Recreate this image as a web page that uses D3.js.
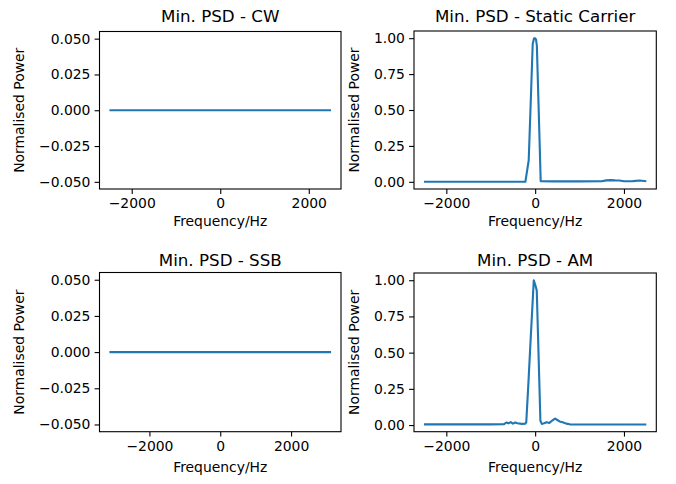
<!DOCTYPE html>
<html><head><meta charset="utf-8">
<script src="https://cdn.jsdelivr.net/npm/d3@7"></script>
<style>body{margin:0;background:#fff}svg{display:block}text{font-family:"DejaVu Sans",sans-serif;fill:#000}</style>
</head><body>
<svg id="c" width="676" height="484"></svg>
<script>
// ---- data ----
const titles = ["Min. PSD - CW", "Min. PSD - Static Carrier", "Min. PSD - SSB", "Min. PSD - AM"];
const xLabel = "Frequency/Hz";
const yLabel = "Normalised Power";

const freqCW = [-2480, -1000, 0, 1000, 2480];
const powerCW = [0, 0, 0, 0, 0];

const freqStatic = [-2480, -1000, -220, -145, -100, -55, -25, 0, 20, 38, 80, 125, 400, 1000, 1500, 1600, 1700, 1800, 1900, 2000, 2200, 2350, 2480];
const powerStatic = [0, 0, 0, 0.15, 0.55, 0.96, 1.0, 1.0, 0.99, 0.95, 0.5, 0.004, 0.003, 0.003, 0.004, 0.01, 0.012, 0.01, 0.009, 0.004, 0.005, 0.009, 0.005];

const freqSSB = [-3100, -1000, 0, 1000, 3100];
const powerSSB = [0, 0, 0, 0, 0];

const freqAM = [-2480, -1500, -1000, -700, -650, -600, -550, -500, -450, -400, -300, -220, -200, -150, -100, -60, -31, 0, 36, 80, 118, 150, 200, 260, 320, 380, 450, 500, 550, 620, 700, 780, 1500, 2480];
const powerAM = [0.005, 0.005, 0.005, 0.006, 0.018, 0.012, 0.02, 0.01, 0.018, 0.012, 0.008, 0.01, 0.02, 0.3, 0.6, 0.83, 1.0, 0.97, 0.93, 0.45, 0.03, 0.008, 0.012, 0.02, 0.015, 0.03, 0.045, 0.035, 0.025, 0.02, 0.01, 0.005, 0.004, 0.004];

const xTicks = [-2000, 0, 2000];
const yTicksSmall = [-0.05, -0.025, 0, 0.025, 0.05];
const yTicksUnit = [0, 0.25, 0.5, 0.75, 1.0];

const panels = [
  {f: freqCW, p: powerCW, title: titles[0], yt: yTicksSmall, fmt: ".3f", box: [99.5, 31.5, 341, 189], tY: 21.5, xlY: 225.5},
  {f: freqStatic, p: powerStatic, title: titles[1], yt: yTicksUnit, fmt: ".2f", box: [414, 31, 656.3, 189], tY: 21.5, xlY: 225.5},
  {f: freqSSB, p: powerSSB, title: titles[2], yt: yTicksSmall, fmt: ".3f", box: [99.5, 272.5, 341, 431.7], tY: 266, xlY: 472},
  {f: freqAM, p: powerAM, title: titles[3], yt: yTicksUnit, fmt: ".2f", box: [414, 273, 656.3, 431.7], tY: 266, xlY: 472}
];

const svg = d3.select("#c");
const minus = s => s.replace("-", "\u2212");

function padExtent(ext) {
  let [a, b] = ext;
  if (a === b) { return [a - 0.055, b + 0.055]; }
  const m = (b - a) * 0.05;
  return [a - m, b + m];
}

panels.forEach(pn => {
  const [x0, y0, x1, y1] = pn.box;
  const x = d3.scaleLinear().domain(padExtent(d3.extent(pn.f))).range([x0, x1]);
  const y = d3.scaleLinear().domain(padExtent(d3.extent(pn.p))).range([y1, y0]);
  const g = svg.append("g");
  const data = pn.f.map((v, i) => [v, pn.p[i]]);

  g.append("path").datum(data)
    .attr("fill", "none").attr("stroke", "#1f77b4").attr("stroke-width", 2.1)
    .attr("stroke-linejoin", "round").attr("stroke-linecap", "square")
    .attr("d", d3.line().x(d => x(d[0])).y(d => y(d[1])));

  const xa = g.append("g").attr("transform", `translate(0,${y1})`)
    .call(d3.axisBottom(x).tickValues(xTicks).tickSize(4.9).tickPadding(4.2).tickFormat(d => minus(d3.format("d")(d))));
  const ya = g.append("g").attr("transform", `translate(${x0},0)`)
    .call(d3.axisLeft(y).tickValues(pn.yt).tickSize(4.9).tickPadding(4.2).tickFormat(d => minus(d3.format(pn.fmt)(d))));
  [xa, ya].forEach(a => {
    a.select(".domain").remove();
    a.selectAll("line").attr("stroke", "#000").attr("stroke-width", 1.1);
    a.selectAll("text").attr("font-size", 13.9).attr("font-family", "DejaVu Sans").attr("fill", "#000");
  });

  g.append("rect").attr("x", x0).attr("y", y0).attr("width", x1 - x0).attr("height", y1 - y0)
    .attr("fill", "none").attr("stroke", "#000").attr("stroke-width", 1.1);

  g.append("text").attr("x", (x0 + x1) / 2).attr("y", pn.tY).attr("text-anchor", "middle")
    .attr("font-size", 16.7).text(pn.title);
  g.append("text").attr("x", (x0 + x1) / 2).attr("y", pn.xlY).attr("text-anchor", "middle")
    .attr("font-size", 13.9).text(xLabel);

  const bb = ya.node().getBBox();
  const lx = x0 + bb.x - 15; // gap between tick labels and axis label
  g.append("text").attr("transform", `translate(${lx},${(y0 + y1) / 2}) rotate(-90)`)
    .attr("text-anchor", "middle").attr("font-size", 13.9).text(yLabel);
});
</script>
</body></html>
